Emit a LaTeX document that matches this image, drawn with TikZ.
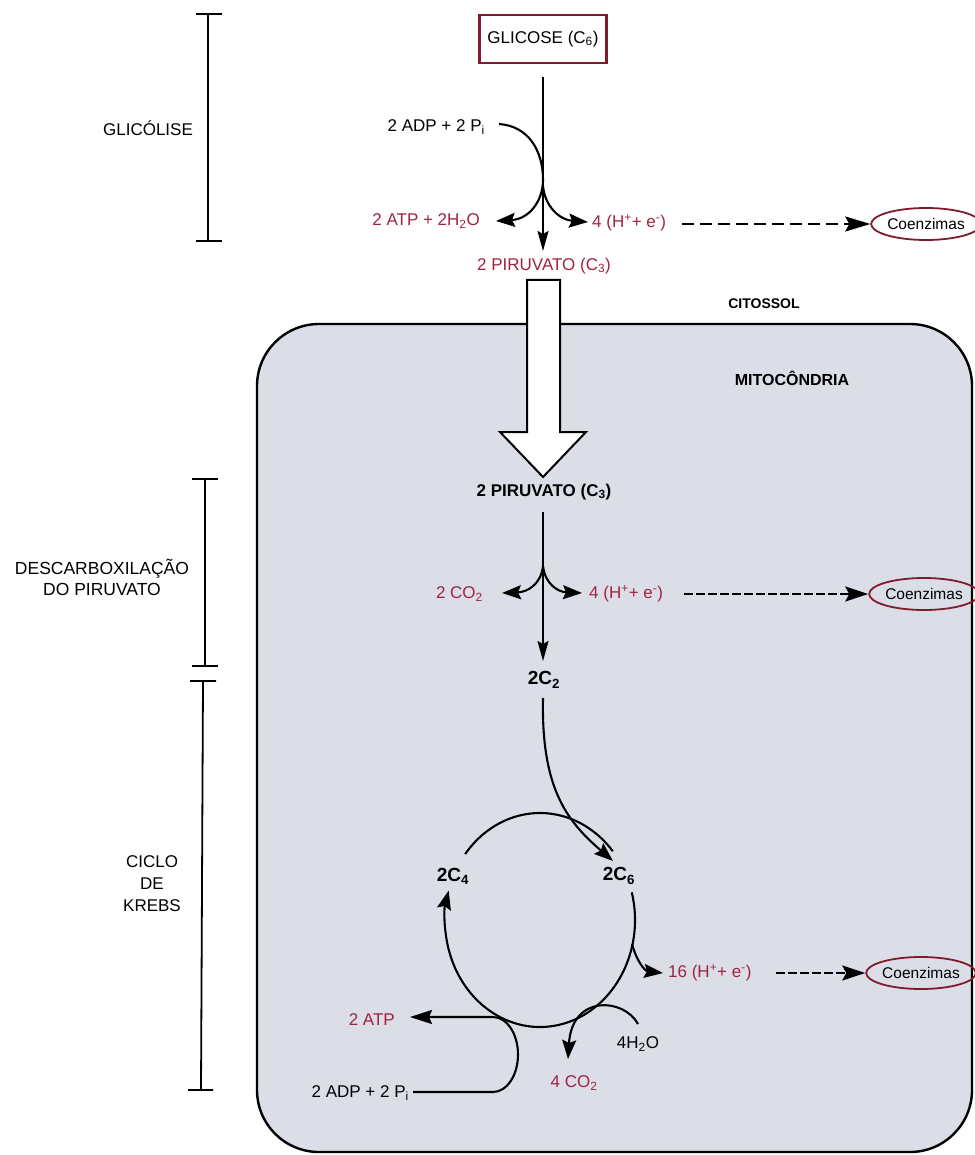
\documentclass[tikz,border=0pt]{standalone}
\usepackage{fontspec}
\setmainfont{Liberation Sans}
\usetikzlibrary{arrows.meta,shapes.geometric}
\definecolor{rtxt}{RGB}{162,34,66}
\definecolor{rbord}{RGB}{128,26,44}
\definecolor{mito}{RGB}{219,222,230}
\begin{document}
\begin{tikzpicture}[x=1pt,y=-1pt,
  lbl/.style={font=\fontsize{17}{21}\selectfont, inner sep=1pt, align=center},
  rlbl/.style={lbl, text=rtxt},
  blbl/.style={font=\fontsize{17}{20}\selectfont\bfseries, inner sep=1pt},
  clbl/.style={font=\fontsize{19}{22}\selectfont\bfseries, inner sep=1pt},
  coenz/.style={ellipse, draw=rbord, line width=1.8pt, minimum width=96pt, minimum height=32pt, inner sep=0pt, font=\fontsize{15.5}{17}\selectfont},
  plain/.style={line width=2.1pt},
  flow/.style={line width=2.1pt, -{Stealth[length=19pt,width=14pt,inset=3pt]}},
  vflow/.style={line width=1.8pt, -{Stealth[length=20pt,width=11pt,inset=3pt]}},
  dflow/.style={line width=2.2pt, dash pattern=on 12pt off 6pt, -{Stealth[length=25pt,width=15pt,inset=4pt]}},
  dflowb/.style={line width=2.2pt, dash pattern=on 9pt off 3pt, -{Stealth[length=23pt,width=15pt,inset=4pt]}},
  brk/.style={line width=1.8pt},
]
\useasboundingbox (0,0) rectangle (974,1155);
\fill[white] (0,0) rectangle (974,1155);

% mitochondrion
\draw[fill=mito, line width=2.4pt, rounded corners=62pt] (257,324) rectangle (972,1152);

% brackets
\draw[brk] (196,14) -- (222,14) (208,14) -- (208,241) (196,241) -- (222,241);
\node[lbl] (glicolise) at (148,128) {GLICÓLISE};
\draw[brk] (192,479) -- (218,479) (205,479) -- (205,666) (192,666) -- (218,666);
\node[lbl, font=\fontsize{17.5}{21}\selectfont] (descarb) at (102,577) {DESCARBOXILAÇÃO\\DO PIRUVATO};
\draw[brk] (190,681) -- (216,681) (203,681) -- (201,1090) (188,1090) -- (213,1090);
\node[lbl, font=\fontsize{17}{22}\selectfont] (krebs) at (152,884) {CICLO\\DE\\KREBS};

% glycolysis
\node[lbl, draw=rbord, line width=2.2pt, minimum width=127pt, minimum height=48pt] (glicose) at (543,39) {GLICOSE (C\textsubscript{6})};
\node[lbl, anchor=east] (adp1) at (486,127) {2 ADP + 2 P\textsubscript{i}};
\node[rlbl, anchor=east] (atp1) at (481,221) {2 ATP + 2H\textsubscript{2}O};
\node[rlbl, anchor=west] (he1) at (591,223) {4 (H\textsuperscript{+}+ e\textsuperscript{-})};
\node[rlbl] (pir1) at (544,266) {2 PIRUVATO (C\textsubscript{3})};
\node[coenz] (co1) at (926,224) {Coenzimas};
\coordinate (gtop) at (543,77);
\coordinate (gbot) at (543,251);
\coordinate (adpstart) at (499,124);
\coordinate (g1) at (543,180);
\coordinate (atptip1) at (496,221);
\coordinate (g2) at (543,186);
\coordinate (hetip1) at (588,222);
\draw[vflow] (gtop) -- (gbot);
\draw[flow] (adpstart) .. controls (528,126) and (543,150) .. (g1)
   .. controls (543,200) and (530,219) .. (atptip1);
\draw[flow] (g2) .. controls (545,207) and (560,220) .. (hetip1);
\coordinate (d1s) at (682,224);
\draw[dflow] (d1s) -- (co1.west);

\node[font=\fontsize{14}{17}\selectfont\bfseries] (citossol) at (764,304) {CITOSSOL};
\node[font=\fontsize{16}{19}\selectfont\bfseries] (mitoc) at (792,378) {MITOCÔNDRIA};

% big transport arrow
\node[blbl] (pir2) at (544,492) {2 PIRUVATO (C\textsubscript{3})};
\draw[fill=white, line width=2pt, line join=miter] (527,280) -- (527,432) -- (500,432) -- (543,477) -- (586,432) -- (560,432) -- (560,280) -- cycle;

% decarboxylation
\node[rlbl, anchor=east] (co2a) at (484,594) {2 CO\textsubscript{2}};
\node[rlbl, anchor=west] (he2) at (588,594) {4 (H\textsuperscript{+}+ e\textsuperscript{-})};
\node[coenz] (co2) at (924,594) {Coenzimas};
\node[clbl] (c2) at (544,680) {2C\textsubscript{2}};
\coordinate (p2top) at (543,512);
\coordinate (p2bot) at (543,661);
\coordinate (j2) at (543,566);
\coordinate (co2tip) at (502,593);
\coordinate (hetip2) at (582,593);
\draw[vflow] (p2top) -- (p2bot);
\draw[flow] (j2) .. controls (541,584) and (528,592) .. (co2tip);
\draw[flow] (j2) .. controls (545,584) and (558,592) .. (hetip2);
\coordinate (d2s) at (684,594);
\draw[dflowb] (d2s) -- (co2.west);

% Krebs cycle
\node[clbl] (c4) at (453,876) {2C\textsubscript{4}};
\node[clbl] (c6) at (619,876) {2C\textsubscript{6}};
\coordinate (cyc) at (540,920);
\coordinate (c2out) at (543,698);
\coordinate (c6tip) at (613,861);
\draw[flow] (c2out) .. controls (541,790) and (568,822) .. (c6tip);
\draw[plain] (cyc) ++(-142:95 and 107) arc[start angle=-142, end angle=-40, x radius=95, y radius=107];
\draw[flow] (cyc) ++(-15:95 and 107) arc[start angle=-15, end angle=196, x radius=95, y radius=107];

% 16 (H+ + e-)
\node[rlbl, anchor=west] (he3) at (667,973) {16 (H\textsuperscript{+}+ e\textsuperscript{-})};
\node[coenz] (co3) at (921,973) {Coenzimas};
\coordinate (b16) at (632,944);
\coordinate (hetip3) at (663,973);
\draw[flow] (b16) .. controls (637,962) and (645,971) .. (hetip3);
\coordinate (d3s) at (776,973);
\draw[dflowb] (d3s) -- (co3.west);

% 4H2O -> 4CO2
\node[lbl] (h2o) at (638,1044) {4H\textsubscript{2}O};
\node[rlbl] (co2b) at (574,1083) {4 CO\textsubscript{2}};
\coordinate (h2oin) at (638,1024);
\coordinate (co2tipb) at (568,1059);
\draw[flow] (h2oin) .. controls (624,998) and (572,994) .. (co2tipb);

% ADP -> ATP
\node[rlbl, anchor=east] (atp2) at (396,1020) {2 ATP};
\node[lbl, anchor=east] (adp2) at (410,1093) {2 ADP + 2 P\textsubscript{i}};
\coordinate (adpin) at (413,1092);
\coordinate (atptip2) at (410,1017);
\draw[line width=2.1pt, -{Stealth[length=22pt,width=14pt,inset=3pt]}] (adpin) -- (493,1092) arc[start angle=90, end angle=-90, x radius=25, y radius=37.5] -- (atptip2);
\end{tikzpicture}
\end{document}
